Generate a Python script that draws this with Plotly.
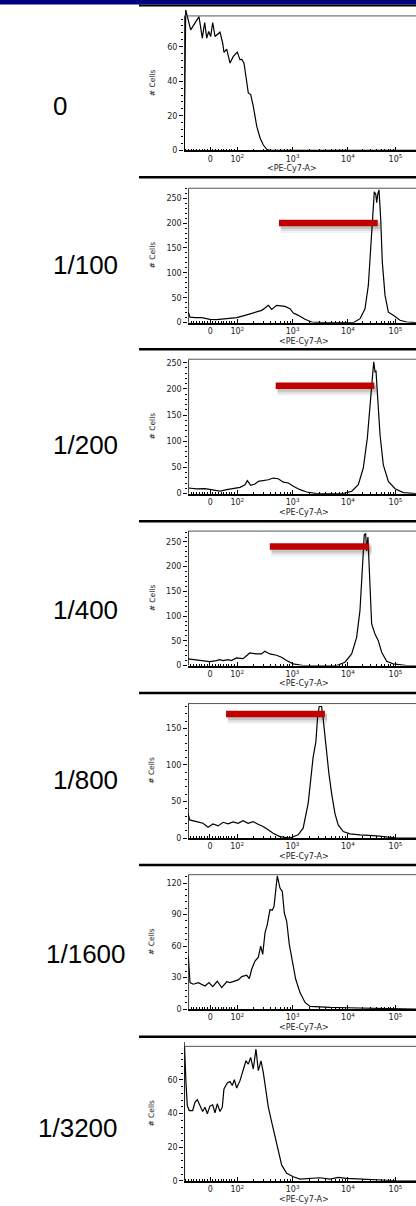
import math
import plotly.graph_objects as go

W, H = 416, 1206

# ---------------- data ----------------
# x positions are on the biexponential display scale, in display decades
# (0 -> ~1.51, 10^2 -> 2, 10^3 -> 3, 10^4 -> 4); y = # cells
x_p1 = [1.040, 1.067, 1.157, 1.217, 1.307, 1.367, 1.410, 1.447, 1.483, 1.519, 1.555, 1.597, 1.656, 1.687,
        1.736, 1.759, 1.808, 1.868, 1.928, 2.000, 2.049, 2.080, 2.121, 2.157, 2.199, 2.242, 2.289, 2.351,
        2.410, 2.470, 2.532, 2.591, 5.231]
y_p1 = [0, 81.3, 69.7, 72.6, 77.4, 65, 74, 65, 68.8, 65.9, 74, 65.9, 67.9, 68.4,
        62, 56.7, 58.6, 50.5, 54.4, 56.9, 52.4, 52.8, 50.5, 42.8, 33.2, 32.3, 25.5, 14,
        7.3, 3.1, 0.6, 0, 0]

x_p2 = [1.114, 1.145, 1.235, 1.356, 1.506, 1.627, 1.808, 1.989, 2.139, 2.289, 2.441, 2.501, 2.561, 2.622,
        2.712, 2.863, 2.953, 3.013, 3.103, 3.224, 3.345, 3.555, 4.098, 4.219, 4.309, 4.369, 4.412, 4.448,
        4.477, 4.503, 4.521, 4.539, 4.562, 4.593, 4.622, 4.671, 4.731, 4.821, 4.942, 5.063, 5.231]
y_p2 = [21, 11, 10, 10, 6.7, 6, 8, 10, 14.7, 19.3, 24.7, 29.3, 34.7, 26.7,
        34.7, 32.7, 28, 19.3, 14.7, 6.7, 1.3, 0, 0, 8, 28, 74.7, 141, 214.7,
        262.7, 258, 241, 258, 266.7, 208, 121, 54.7, 21, 14.7, 4.7, 1.3, 0]

x_p3 = [1.114, 1.266, 1.416, 1.537, 1.687, 1.808, 1.928, 2.049, 2.139, 2.181, 2.242, 2.320, 2.380, 2.470,
        2.561, 2.651, 2.741, 2.832, 2.922, 3.013, 3.134, 3.255, 3.436, 3.917, 4.069, 4.188, 4.278, 4.351,
        4.400, 4.441, 4.467, 4.490, 4.508, 4.539, 4.581, 4.640, 4.731, 4.852, 5.002, 5.231]
y_p3 = [10.8, 9, 9.5, 7, 5, 7.6, 9.5, 12, 17, 24.7, 16, 18.4, 23.5, 24.7,
        26.6, 29.8, 28.5, 22, 20.3, 14, 7.6, 3.2, 0, 0, 4.6, 17, 48.9, 106,
        175.7, 220, 251.7, 232.7, 233.8, 188, 112, 55, 23.5, 9.5, 1.9, 0]

x_p4 = [1.114, 1.235, 1.356, 1.506, 1.627, 1.687, 1.747, 1.837, 1.899, 1.989, 2.108, 2.230, 2.351, 2.441,
        2.501, 2.591, 2.712, 2.803, 2.893, 3.013, 3.193, 3.797, 3.948, 4.069, 4.159, 4.219, 4.260, 4.297,
        4.322, 4.340, 4.363, 4.394, 4.430, 4.490, 4.550, 4.611, 4.702, 4.821, 5.063, 5.231]
y_p4 = [13.4, 11.4, 10, 8, 10, 12, 10, 12, 10, 15.4, 14, 25.5, 23.4, 23.4,
        28.8, 23.4, 20.8, 16.7, 10, 3.4, 0, 0, 6.7, 23.4, 57, 111, 191.5, 265,
        266.7, 231.8, 260, 165, 84, 63.7, 50.4, 26.8, 8.7, 3.4, 0, 0]

x_p5 = [1.114, 1.145, 1.266, 1.385, 1.476, 1.566, 1.656, 1.747, 1.837, 1.928, 2.018, 2.108, 2.199, 2.289,
        2.380, 2.470, 2.561, 2.651, 2.772, 2.953, 3.103, 3.193, 3.284, 3.374, 3.423, 3.454, 3.483, 3.526,
        3.555, 3.604, 3.658, 3.707, 3.767, 3.826, 3.917, 4.038, 4.219, 4.521, 4.882, 5.231]
y_p5 = [33.8, 24.8, 22.5, 20.2, 14.7, 19.3, 16.6, 21.5, 19.3, 22, 20.2, 23.8, 20.2, 22.5,
        18.8, 15.7, 11.2, 6.6, 2, 0, 4.3, 13.4, 47.4, 111, 131.5, 165.5, 180, 180,
        163, 124.7, 88.3, 61, 33.8, 18, 8.9, 5.7, 4.3, 3, 0, 0]

x_p6 = [1.114, 1.145, 1.204, 1.295, 1.416, 1.488, 1.555, 1.638, 1.718, 1.808, 1.868, 1.958, 2.018, 2.080,
        2.170, 2.217, 2.260, 2.320, 2.380, 2.423, 2.459, 2.501, 2.542, 2.591, 2.633, 2.664, 2.694, 2.723,
        2.772, 2.814, 2.850, 2.893, 2.940, 2.995, 3.056, 3.134, 3.224, 3.315, 3.495, 3.676, 3.978, 4.278,
        4.702, 4.882, 5.231]
y_p6 = [50.5, 25.2, 23.7, 25.2, 22, 25.2, 21.4, 26.5, 20.5, 26, 25.2, 26.8, 27.8, 30.9,
        32.2, 29, 37.9, 45.8, 49.5, 60, 52, 72.6, 80.5, 94.7, 94, 97.9, 110.5, 126.9,
        115.2, 112, 91.5, 83.6, 61.6, 44.2, 28.4, 15.7, 6.3, 2.5, 1.9, 1.6, 1.3, 1,
        0.3, 0, 0]

x_p7 = [1.040, 1.042, 1.072, 1.096, 1.132, 1.193, 1.235, 1.277, 1.325, 1.374, 1.416, 1.458, 1.506, 1.555,
        1.597, 1.638, 1.687, 1.729, 1.759, 1.819, 1.868, 1.910, 1.946, 1.989, 2.049, 2.108, 2.157, 2.199,
        2.242, 2.289, 2.338, 2.380, 2.429, 2.470, 2.519, 2.561, 2.622, 2.682, 2.741, 2.803, 2.893, 3.013,
        3.134, 3.315, 3.495, 3.676, 3.826, 3.978, 4.278, 4.640, 4.882, 5.231]
y_p7 = [0, 82.6, 58.6, 44.8, 41.8, 41.8, 46.7, 48.3, 44.8, 41.2, 43.8, 39.9, 44.4, 45.2,
        40.5, 45.8, 41.2, 43.8, 54.7, 58.2, 59, 56.7, 60.2, 55.2, 59.6, 66.5, 71.4, 69.4,
        73.4, 66.5, 78.3, 65.5, 71.4, 64.5, 54.7, 43.8, 34.9, 26, 17.2, 9.3, 4.4, 2.4,
        1, 1.4, 1.8, 1, 2, 1.4, 1, 0.6, 0, 0]

dilutions = ["0", "1/100", "1/200", "1/400", "1/800", "1/1600", "1/3200"]
xs = [x_p1, x_p2, x_p3, x_p4, x_p5, x_p6, x_p7]
ys = [y_p1, y_p2, y_p3, y_p4, y_p5, y_p6, y_p7]
y_max = [77.8, 270, 256.7, 272, 184, 128, 80]          # top of each histogram frame
y_ticks = [[0, 20, 40, 60], [0, 50, 100, 150, 200, 250], [0, 50, 100, 150, 200, 250],
           [0, 50, 100, 150, 200, 250], [0, 50, 100, 150], [0, 30, 60, 90, 120], [0, 20, 40, 60]]
x_min = [1.036, 1.114, 1.114, 1.114, 1.114, 1.114, 1.042]
x_max = 5.231
# positive gate (start, end, height) in display decades / cells
gates = [None, (2.754, 4.539, 200), (2.694, 4.477, 206), (2.591, 4.387, 241),
         (1.801, 3.586, 169.6), None, None]

x_tick_values = [0, 100, 1000, 10000, 100000]
x_tick_text = ["0", "10<sup>2</sup>", "10<sup>3</sup>", "10<sup>4</sup>", "10<sup>5</sup>"]


def biex(v):
    """fluorescence value -> display position (as drawn by the cytometer software)"""
    if v >= 10000:
        return 4 + 0.86 * (math.log10(v) - 4)
    if v >= 100:
        return math.log10(v)
    return 1.51 + 0.0049 * v


# minor ticks on the x axis
minor_x = [biex(v) for v in range(-90, 100, 10) if v != 0]
for e in (2, 3, 4):
    for m in range(2, 10):
        minor_x.append(biex(m * 10 ** e))

# ---------------- layout geometry ----------------
panel_top = [5.5 + 172.6 * k for k in range(7)]
base_px = [151, 324, 495.7, 668.3, 841.5, 1013.3, 1185.7]
left_px = [184, 188.3, 188.3, 188, 188, 188.3, 184.3]
label_pos = [(60, 106), (85, 266), (85, 447), (85, 613), (85, 783), (86, 958), (78, 1133)]
PLOT_H = 135
EXTRA = 8
AX_FONT = dict(family="DejaVu Sans", size=8, color="#222")

fig = go.Figure()
shapes = []
annotations = []

for k in range(7):
    sx = "" if k == 0 else str(k + 1)
    xa, ya = "x" + sx, "y" + sx
    base = base_px[k]
    top = base - PLOT_H - EXTRA
    ytop = y_max[k] * (PLOT_H + EXTRA) / PLOT_H
    step = y_ticks[k][1] - y_ticks[k][0]
    fig.add_trace(go.Scatter(x=xs[k], y=ys[k], mode="lines", xaxis=xa, yaxis=ya,
                             line=dict(color="black", width=1.2), showlegend=False,
                             hoverinfo="skip"))
    fig.layout["xaxis" + sx] = dict(
        domain=[left_px[k] / W, 1], range=[x_min[k], x_max], anchor=ya,
        showline=True, linecolor="black", linewidth=1.5, showgrid=False, zeroline=False,
        tickmode="array", tickvals=[biex(v) for v in x_tick_values], ticktext=x_tick_text,
        ticks="inside", ticklen=4, tickwidth=1, tickcolor="black", tickfont=AX_FONT,
        minor=dict(tickmode="array", tickvals=minor_x, ticks="inside", ticklen=2,
                   tickcolor="black", tickwidth=0.8),
        fixedrange=True)
    fig.layout["yaxis" + sx] = dict(
        domain=[1 - base / H, 1 - top / H], range=[0, ytop], anchor=xa,
        showline=False, showgrid=False, zeroline=False,
        tickmode="array", tickvals=y_ticks[k], ticktext=[str(t) for t in y_ticks[k]],
        ticks="outside", ticklen=4, tickwidth=1, tickcolor="black", tickfont=AX_FONT,
        minor=dict(tickmode="array",
                   tickvals=[i * step / 5 for i in range(1, int(y_max[k] / (step / 5)) + 1)
                             if i % 5 != 0],
                   ticks="outside", ticklen=2, tickcolor="black", tickwidth=0.8),
        fixedrange=True)
    # y axis line and top frame line
    shapes.append(dict(type="line", xref=xa, yref=ya, x0=x_min[k], x1=x_min[k], y0=0, y1=y_max[k],
                       line=dict(color="black", width=1.5)))
    shapes.append(dict(type="line", xref=xa, yref=ya, x0=x_min[k], x1=x_max, y0=y_max[k], y1=y_max[k],
                       line=dict(color="#555", width=1)))
    # gate bar with soft shadow
    if gates[k]:
        g0, g1, gy = gates[k]
        upp = y_max[k] / PLOT_H  # units per pixel
        for w, a, off in [(12, 0.05, 4), (9, 0.08, 3.5), (6, 0.12, 3)]:
            shapes.append(dict(type="line", xref=xa, yref=ya, x0=g0 + 0.03, x1=g1 + 0.04,
                               y0=gy - off * upp, y1=gy - off * upp,
                               line=dict(color=f"rgba(0,0,0,{a})", width=w)))
        shapes.append(dict(type="line", xref=xa, yref=ya, x0=g0, x1=g1, y0=gy, y1=gy,
                           line=dict(color="#c00000", width=6.5)))
    # axis titles
    annotations.append(dict(text="&lt;PE-Cy7-A&gt;", xref="paper", yref="paper",
                            x=(292 if k == 0 else 304) / W, y=1 - (base + 18.5) / H,
                            showarrow=False, font=AX_FONT, xanchor="center", yanchor="middle"))
    annotations.append(dict(text="# Cells", xref="paper", yref="paper",
                            x=152 / W, y=1 - (base - PLOT_H / 2) / H, textangle=-90,
                            showarrow=False, font=dict(family="DejaVu Sans", size=7.5, color="#222"),
                            xanchor="center", yanchor="middle"))
    # dilution label
    lx, ly = label_pos[k]
    annotations.append(dict(text=dilutions[k], xref="paper", yref="paper", x=lx / W, y=1 - ly / H,
                            showarrow=False, xanchor="center", yanchor="middle",
                            font=dict(family="Liberation Sans", size=26, color="black")))

# separators between panels and header bar
shapes.append(dict(type="rect", xref="paper", yref="paper", x0=0, x1=1, y0=1, y1=1 - 4.5 / H,
                   fillcolor="#000080", line=dict(width=0)))
for k in range(7):
    yy = panel_top[k]
    shapes.append(dict(type="line", xref="paper", yref="paper", x0=139 / W, x1=1,
                       y0=1 - yy / H, y1=1 - yy / H,
                       line=dict(color="black", width=2 if k == 0 else 2.5)))

fig.update_layout(width=W, height=H, margin=dict(l=0, r=0, t=0, b=0),
                  paper_bgcolor="white", plot_bgcolor="rgba(0,0,0,0)",
                  shapes=shapes, annotations=annotations, showlegend=False)

fig.write_html("out.html")
